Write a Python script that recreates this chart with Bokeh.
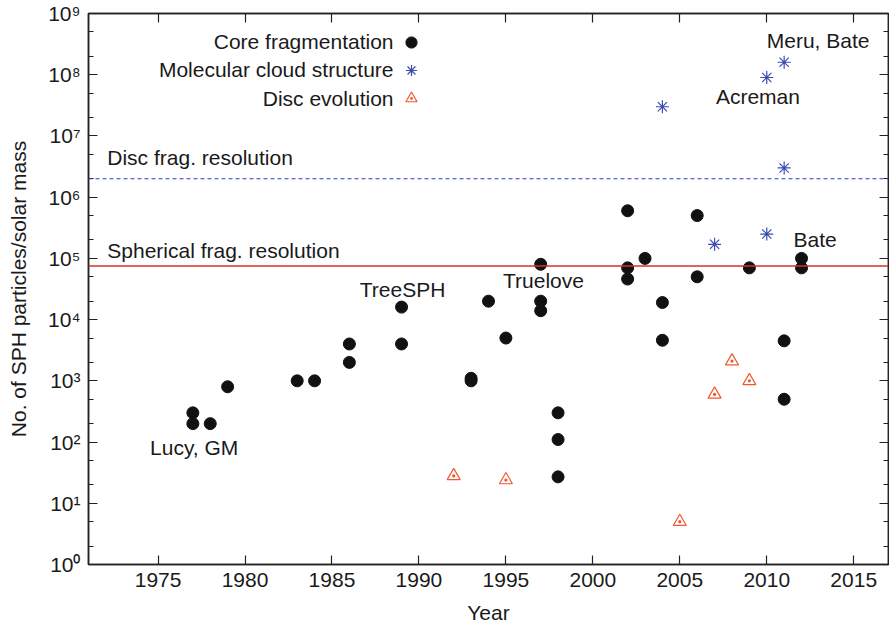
from bokeh.plotting import figure
from bokeh.models import (Span, Label, LinearAxis, LogAxis, FixedTicker, Legend,
                          LegendItem)
from bokeh.embed import file_html
from bokeh.resources import INLINE

# ---------------- data ----------------
core_year = [1977, 1977, 1978, 1979, 1983, 1984, 1986, 1986, 1989, 1989,
             1993, 1993, 1994, 1995, 1997, 1997, 1997, 1998, 1998, 1998,
             2002, 2002, 2002, 2003, 2004, 2004, 2006, 2006, 2009, 2011,
             2011, 2012, 2012]
core_n = [300, 200, 200, 800, 1000, 1000, 4000, 2000, 16000, 4000,
          1000, 1100, 20000, 5000, 80000, 20000, 14000, 300, 110, 27,
          600000, 70000, 46000, 100000, 19000, 4600, 500000, 50000, 70000, 4500,
          500, 100000, 70000]

cloud_year = [2004, 2007, 2010, 2010, 2011, 2011]
cloud_n = [3e7, 1.7e5, 2.5e5, 9e7, 1.6e8, 3e6]

disc_year = [1992, 1995, 2005, 2007, 2008, 2009]
disc_n = [28, 24, 5, 600, 2100, 1000]

disc_frag_resolution = 2e6
spherical_frag_resolution = 7.5e4

x_ticks = [1975, 1980, 1985, 1990, 1995, 2000, 2005, 2010, 2015]
y_exponents = list(range(10))
series_names = ["Core fragmentation", "Molecular cloud structure", "Disc evolution"]

# ---------------- style ----------------
FONT = "Liberation Sans"
FS = "21px"
TXT = "#1a1a1a"
BLUE = "#3a4cb0"
RED = "#d8302a"
ORANGE = "#ee5a2f"
LIFT = 8  # px correction for text baseline placement

p = figure(width=889, height=626, x_range=(1971, 2017), y_range=(1, 1e9),
           y_axis_type="log", output_backend="svg", toolbar_location=None,
           min_border_left=88, min_border_right=1, min_border_top=13,
           min_border_bottom=62)
p.xgrid.visible = False
p.ygrid.visible = False
p.outline_line_color = "#222222"
p.outline_line_width = 1.5
p.background_fill_color = "white"
p.border_fill_color = "white"

sup = "⁰¹²³⁴⁵⁶⁷⁸⁹"
y_major = [10 ** e for e in y_exponents]
y_minor = [m * 10 ** e for e in y_exponents[:-1] for m in (2, 5)]
y_ticker = FixedTicker(ticks=y_major, minor_ticks=y_minor)
x_ticker = FixedTicker(ticks=x_ticks, minor_ticks=[])


def style_axis(ax):
    ax.axis_line_color = "#222222"
    ax.axis_line_width = 1.5
    ax.major_tick_in = 9
    ax.major_tick_out = 0
    ax.minor_tick_in = 5
    ax.minor_tick_out = 0
    ax.major_tick_line_color = "#222222"
    ax.minor_tick_line_color = "#222222"
    ax.major_tick_line_width = 1.2
    ax.minor_tick_line_width = 1.2
    ax.major_label_text_font = FONT
    ax.major_label_text_font_size = FS
    ax.major_label_text_color = TXT
    ax.axis_label_text_font = FONT
    ax.axis_label_text_font_size = FS
    ax.axis_label_text_font_style = "normal"
    ax.axis_label_text_color = TXT


yax = p.yaxis[0]
yax.ticker = y_ticker
yax.major_label_overrides = {10 ** e: "10" + sup[e] for e in y_exponents}
yax.axis_label = "No. of SPH particles/solar mass"
style_axis(yax)
yax.major_label_standoff = 8
yax.axis_label_standoff = 15

xax = p.xaxis[0]
xax.ticker = x_ticker
xax.axis_label = "Year"
style_axis(xax)
xax.major_label_standoff = 8
xax.axis_label_standoff = 11

top_ax = LinearAxis(ticker=x_ticker)
style_axis(top_ax)
top_ax.major_label_overrides = {t: "" for t in x_ticks}
top_ax.major_label_standoff = 0
p.add_layout(top_ax, "above")

right_ax = LogAxis(ticker=y_ticker)
style_axis(right_ax)
right_ax.major_label_overrides = {10 ** e: "" for e in y_exponents}
right_ax.major_label_standoff = 0
p.add_layout(right_ax, "right")

# resolution lines
p.add_layout(Span(location=disc_frag_resolution, dimension="width",
                  line_color="#2b3fc0", line_dash="4 3", line_width=1.2))
p.add_layout(Span(location=spherical_frag_resolution, dimension="width",
                  line_color=RED, line_width=1.6))

# data
r_core = p.scatter(core_year, core_n, marker="circle", size=12,
                   fill_color="#111111", line_color="#111111")
r_cloud = p.scatter(cloud_year, cloud_n, marker="asterisk", size=13,
                    line_color=BLUE, line_width=1.2)
r_disc = p.scatter(disc_year, disc_n, marker="triangle_dot", size=13,
                   line_color=ORANGE, fill_color=None, line_width=1.2)

# legend (glyphs) with texts on their left
legend = Legend(items=[LegendItem(label=" ", renderers=[r]) for r in (r_core, r_cloud, r_disc)],
                location=(308, 452), orientation="vertical",
                glyph_width=30, glyph_height=28, label_width=0, label_height=28,
                spacing=0, padding=0, margin=0, label_standoff=0,
                border_line_color=None, background_fill_color=None,
                background_fill_alpha=0, label_text_font_size="10px")
p.add_layout(legend)

for name, yy in zip(series_names, (514.7, 486.7, 458.3)):
    p.add_layout(Label(x=305, y=yy + LIFT, x_units="screen", y_units="screen", text=name,
                       text_align="right", text_baseline="alphabetic",
                       text_font=FONT, text_font_size=FS, text_color=TXT))


def note(text, x, y, align="left", y_offset=0):
    p.add_layout(Label(x=x, y=y, text=text, text_align=align,
                       text_baseline="alphabetic", y_offset=y_offset + LIFT,
                       text_font=FONT, text_font_size=FS, text_color=TXT))


note("Lucy, GM", 1974.54, 60.4)
note("TreeSPH", 1989.06, 23300, "center")
note("Truelove", 1997.16, 32000, "center")
note("Bate", 2011.54, 153000)
note("Acreman", 2009.49, 3.28e7, "center")
note("Meru, Bate", 2010.0, 2.67e8)
note("Disc frag. resolution", 1972.08, disc_frag_resolution, y_offset=13)
note("Spherical frag. resolution", 1972.08, spherical_frag_resolution, y_offset=7.5)

open("out.html", "w").write(file_html(p, INLINE))
